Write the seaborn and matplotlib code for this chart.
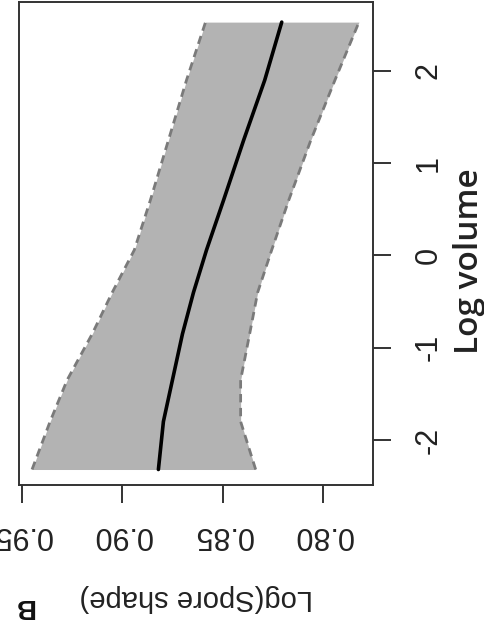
import numpy as np
import pandas as pd
import matplotlib
matplotlib.use("Agg")
import matplotlib.pyplot as plt
import seaborn as sns

log_volume = [-2.32, -1.8, -1.35, -0.85, -0.4, 0.06, 0.6, 1.25, 1.9, 2.53]
shape_fit = [0.882, 0.8795, 0.875, 0.870, 0.8645, 0.858, 0.8495, 0.8395, 0.829, 0.8205]
shape_upper = [0.945, 0.936, 0.9275, 0.915, 0.905, 0.894, 0.886, 0.877, 0.868, 0.8585]
shape_lower = [0.8335, 0.841, 0.841, 0.8365, 0.8325, 0.8255, 0.817, 0.806, 0.794, 0.782]

volume_ticks = [-2, -1, 0, 1, 2]
shape_ticks = [0.80, 0.85, 0.90, 0.95]
shape_tick_labels = ["0.80", "0.85", "0.90", "0.95"]

df = pd.DataFrame({"vol": log_volume, "fit": shape_fit,
                   "upper": shape_upper, "lower": shape_lower})

sns.set_style("white")
plt.rcParams["font.family"] = ["Liberation Sans", "DejaVu Sans"]

W, H = 484, 630
fig = plt.figure(figsize=(W / 100, H / 100), dpi=100)
ax = fig.add_axes([19 / W, 1 - 485 / H, (373 - 19) / W, (485 - 2) / H])

# confidence band
ax.fill_betweenx(df["vol"], df["lower"], df["upper"], color="#b3b3b3", lw=0)
sns.lineplot(data=df, x="upper", y="vol", orient="y", ax=ax,
             color="#7a7a7a", lw=2, dashes=False, linestyle=(0, (3, 2)))
sns.lineplot(data=df, x="lower", y="vol", orient="y", ax=ax,
             color="#7a7a7a", lw=2, dashes=False, linestyle=(0, (3, 2)))
sns.lineplot(data=df, x="fit", y="vol", orient="y", ax=ax,
             color="black", lw=2.6)

ax.set_xlim(0.9515, 0.775)
ax.set_ylim(-2.488, 2.748)
ax.set_xlabel("")
ax.set_ylabel("")

for s in ax.spines.values():
    s.set_visible(True)
    s.set_color("#333333")
    s.set_linewidth(1.4)

ax.set_xticks(shape_ticks)
ax.set_xticklabels(shape_tick_labels, rotation=180, fontsize=22, color="#222222")
ax.set_yticks(volume_ticks)
ax.set_yticklabels([str(v) for v in volume_ticks], rotation=90, fontsize=22,
                   color="#222222", va="center", ha="left")
ax.tick_params(axis="x", bottom=True, top=False, length=13, width=1.4,
               color="#333333", pad=12)
ax.tick_params(axis="y", left=False, right=True, labelleft=False,
               labelright=True, length=13, width=1.4, color="#333333", pad=16)

fig.text(196 / W, 1 - 598 / H, "Log(Spore shape)", rotation=180,
         ha="center", va="center", fontsize=21, color="#222222")
fig.text(469 / W, 1 - 261 / H, "Log volume", rotation=90,
         ha="center", va="center", fontsize=24, fontweight="semibold",
         family=["Open Sans", "DejaVu Sans"], color="#222222")
fig.text(24 / W, 1 - 606 / H, "B", rotation=180, ha="center", va="center",
         fontsize=20, fontweight="bold", color="#111111")

fig.savefig("out.png", dpi=100, facecolor="white")
